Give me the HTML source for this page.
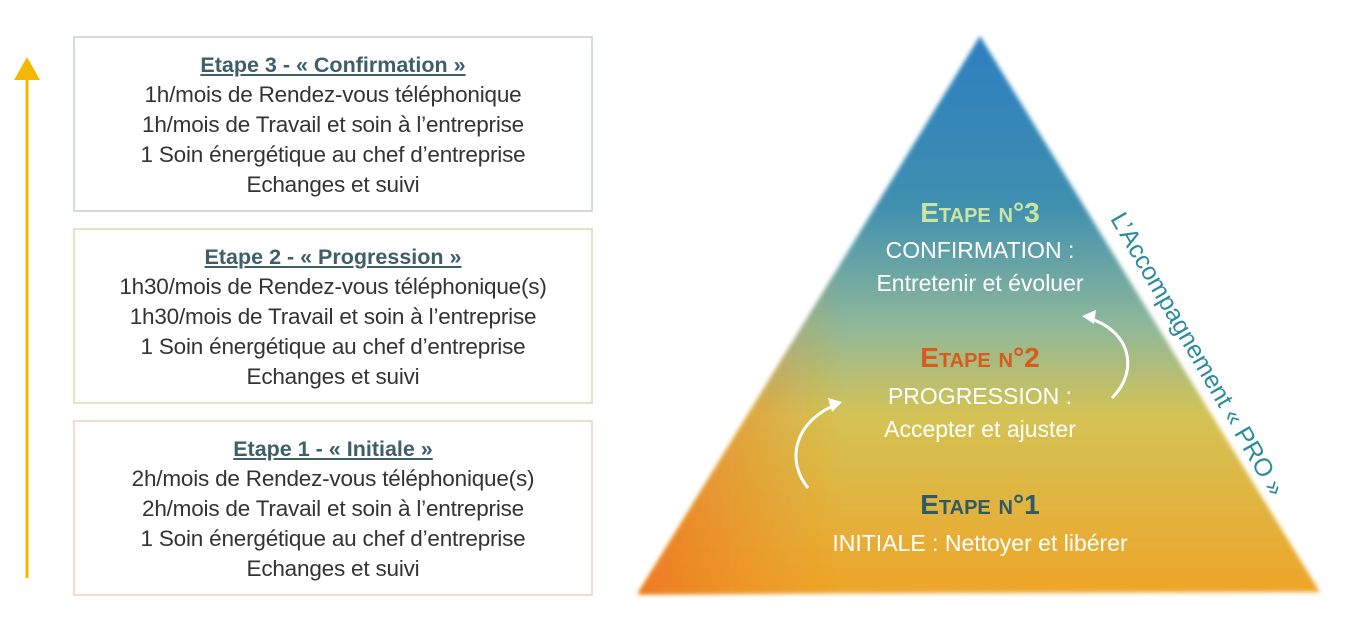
<!DOCTYPE html>
<html><head><meta charset="utf-8"><style>
body{margin:0;width:1359px;height:626px;background:#fff;overflow:hidden;position:relative;font-family:"Liberation Sans",sans-serif}
.box{position:absolute;left:73px;width:516px;height:172px;border:2px solid;box-sizing:content-box;text-align:center;color:#333;font-size:22.5px;line-height:30px;letter-spacing:-0.2px}
.box h3{margin:12px 0 0;font-size:21.5px;line-height:30px;color:#3d5f6a;text-decoration:underline;font-weight:bold;letter-spacing:0}
.t{position:absolute;left:730px;width:500px;text-align:center;color:#fff;font-size:23px;line-height:26px}
.e{position:absolute;left:730px;width:500px;text-align:center;font-weight:bold;font-size:28px;font-variant:small-caps;line-height:30px}
</style></head><body>
<svg width="1359" height="626" style="position:absolute;left:0;top:0">
<defs>
<linearGradient id="g" x1="0" y1="0" x2="0" y2="1">
<stop offset="0" stop-color="#2c7fc0"/>
<stop offset="0.3" stop-color="#3f8fb0"/>
<stop offset="0.52" stop-color="#8fb89a"/>
<stop offset="0.68" stop-color="#d4c355"/>
<stop offset="1" stop-color="#eea428"/>
</linearGradient>
<linearGradient id="h" x1="0" y1="0" x2="1" y2="0">
<stop offset="0" stop-color="#ee6e20" stop-opacity="0.8"/>
<stop offset="0.3" stop-color="#ee8a20" stop-opacity="0"/>
<stop offset="1" stop-color="#ee8a20" stop-opacity="0"/>
</linearGradient>
<filter id="b"><feGaussianBlur stdDeviation="2"/></filter>
</defs>
<polygon points="980,36 638,594 1320,592" fill="url(#g)" filter="url(#b)"/>
<polygon points="980,36 638,594 1320,592" fill="url(#h)" filter="url(#b)"/>
<line x1="27" y1="578" x2="27" y2="76" stroke="#f5b800" stroke-width="3"/>
<polygon points="14,80 40,80 27,57" fill="#f5b800"/>
<path d="M808,488 C785,460 795,420 838,404" stroke="#fff" stroke-width="3" fill="none"/>
<polygon points="842,402 828,398 832,412" fill="#fff"/>
<path d="M1112,398 C1140,370 1130,330 1088,318" stroke="#fff" stroke-width="3" fill="none"/>
<polygon points="1082,316 1096,310 1094,324" fill="#fff"/>
</svg>
<div class="box" style="top:36px;border-color:#cfdde0"><h3>Etape 3 - « Confirmation »</h3>1h/mois de Rendez-vous téléphonique<br>1h/mois de Travail et soin à l’entreprise<br>1 Soin énergétique au chef d’entreprise<br>Echanges et suivi</div>
<div class="box" style="top:228px;border-color:#dbe8c4"><h3>Etape 2 - « Progression »</h3>1h30/mois de Rendez-vous téléphonique(s)<br>1h30/mois de Travail et soin à l’entreprise<br>1 Soin énergétique au chef d’entreprise<br>Echanges et suivi</div>
<div class="box" style="top:420px;border-color:#f4dccb"><h3>Etape 1 - « Initiale »</h3>2h/mois de Rendez-vous téléphonique(s)<br>2h/mois de Travail et soin à l’entreprise<br>1 Soin énergétique au chef d’entreprise<br>Echanges et suivi</div>
<div class="e" style="top:198px;color:#c9e4a4">Etape n°3</div>
<div class="t" style="top:237px">CONFIRMATION :</div>
<div class="t" style="top:270px">Entretenir et évoluer</div>
<div class="e" style="top:343px;color:#d85a1c">Etape n°2</div>
<div class="t" style="top:383px">PROGRESSION :</div>
<div class="t" style="top:416px">Accepter et ajuster</div>
<div class="e" style="top:490px;color:#2f5a66">Etape n°1</div>
<div class="t" style="top:530px">INITIALE : Nettoyer et libérer</div>
<div style="position:absolute;left:1017px;top:340px;width:360px;text-align:center;color:#2a8c9c;font-size:25px;transform:rotate(60deg);white-space:nowrap">L’Accompagnement « PRO »</div>
</body></html>
